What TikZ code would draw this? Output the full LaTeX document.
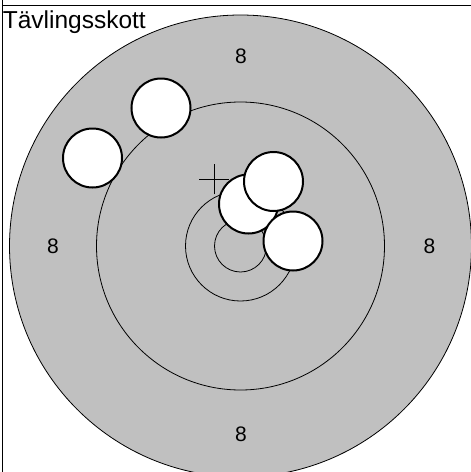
\documentclass[tikz,border=0pt]{standalone}
\usepackage{fontspec}
\setmainfont{Liberation Sans}
\definecolor{targetgray}{HTML}{C0C0C0}

\begin{document}
\begin{tikzpicture}[x=1pt, y=-1pt,
    ring/.style={draw, line width=0.8pt},
    shot/.style={circle, draw, fill=white, line width=2pt, minimum size=59pt, inner sep=0pt},
    score/.style={font=\fontsize{21}{25}\selectfont, inner sep=0pt}]
  \useasboundingbox (0,0) rectangle (471,472);
  \clip (0,0) rectangle (471,472);
  \fill[white] (0,0) rectangle (471,472);
  % frame
  \draw[line width=1pt] (2.3,0) -- (2.3,472);
  \draw[line width=1pt] (2.3,5) -- (471,5);
  \node[anchor=base west, inner sep=0pt, font=\fontsize{24.5}{29}\selectfont] (title) at (2.6,28.3) {Tävlingsskott};
  % target
  \coordinate (mid) at (240.5,246);
  \filldraw[fill=targetgray, ring] (mid) circle[radius=231];
  \foreach \r in {144, 55, 26} { \draw[ring] (mid) circle[radius=\r]; }
  % aiming cross
  \coordinate (aim) at (214.3,179.3);
  \draw[line width=1pt] ([xshift=-15pt]aim) -- ([xshift=15pt]aim);
  \draw[line width=1pt] ([yshift=-15pt]aim) -- ([yshift=15pt]aim);
  \node[score] (stop) at (241,56.5) {8};
  \node[score] (sleft) at (53,246) {8};
  \node[score] (sright) at (429.5,246.5) {8};
  \node[score] (sbottom) at (241,434.5) {8};
  % shots
  \foreach \n/\x/\y in {a/248.5/204, c/293/241, b/273.5/181.5, d/161/108, e/92.5/158}
    { \node[shot] (shot\n) at (\x,\y) {}; }
\end{tikzpicture}
\end{document}
